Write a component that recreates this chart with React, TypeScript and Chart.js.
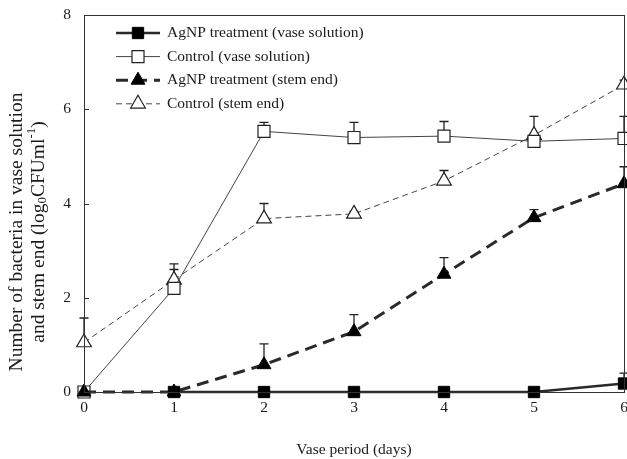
import React, { useEffect, useRef } from "react";
import { Chart, registerables } from "chart.js";
import { drawPoint } from "chart.js/helpers";

Chart.register(...registerables);

const days = [0, 1, 2, 3, 4, 5, 6];
const yTicks = [0, 2, 4, 6, 8];

const agnpVase = [null, 0, 0, 0, 0, 0, 0.18];
const agnpVaseErr = [0, 0, 0, 0, 0, 0, 0.22];
const controlVase = [0, 2.2, 5.53, 5.4, 5.43, 5.32, 5.38];
const controlVaseErr = [0, 0.4, 0.19, 0.32, 0.31, 0.53, 0.47];
const agnpStem = [0, 0, 0.58, 1.28, 2.5, 3.7, 4.42];
const agnpStemErr = [0, 0, 0.44, 0.36, 0.35, 0.17, 0.36];
const controlStem = [1.05, 2.38, 3.68, 3.78, 4.48, 5.45, 6.52];
const controlStemErr = [0.52, 0.34, 0.32, 0.05, 0.22, 0, 0.1];

const seriesLabels = [
  "AgNP treatment (vase solution)",
  "Control (vase solution)",
  "AgNP treatment (stem end)",
  "Control (stem end)",
];

const FONT = "'Liberation Serif', 'Times New Roman', serif";
const TEXT = "#1a1a1a";

const toXY = (arr: (number | null)[]) => arr.map((v, i) => ({ x: days[i], y: v }));

const errorBarPlugin = {
  id: "errorBars",
  beforeDatasetsDraw(chart: any) {
    const { ctx, scales } = chart;
    const x = scales.x;
    const y = scales.y;
    ctx.save();
    ctx.strokeStyle = "#222";
    ctx.lineWidth = 1.3;
    chart.data.datasets.forEach((ds: any) => {
      const errs: number[] = ds.errors;
      if (!errs) return;
      ds.data.forEach((p: any, i: number) => {
        if (p.y == null || !errs[i]) return;
        const px = x.getPixelForValue(p.x);
        const py0 = y.getPixelForValue(p.y);
        const py1 = y.getPixelForValue(p.y + errs[i]);
        ctx.beginPath();
        ctx.moveTo(px, py0);
        ctx.lineTo(px, py1);
        ctx.moveTo(px - 4.5, py1);
        ctx.lineTo(px + 4.5, py1);
        ctx.stroke();
      });
    });
    ctx.restore();
  },
};

const framePlugin = {
  id: "frame",
  afterDraw(chart: any) {
    const { ctx, chartArea, scales } = chart;
    const y = scales.y;
    ctx.save();
    ctx.strokeStyle = "#333";
    ctx.lineWidth = 1;
    ctx.strokeRect(
      Math.round(chartArea.left) + 0.5,
      Math.round(chartArea.top) + 0.5,
      Math.round(chartArea.right - chartArea.left),
      Math.round(chartArea.bottom - chartArea.top)
    );
    ctx.beginPath();
    yTicks.forEach((t) => {
      const py = Math.round(y.getPixelForValue(t)) + 0.5;
      ctx.moveTo(chartArea.left, py);
      ctx.lineTo(chartArea.left + 5, py);
    });
    ctx.stroke();
    ctx.restore();
  },
};

const legendPlugin = {
  id: "customLegend",
  afterDraw(chart: any) {
    const { ctx } = chart;
    ctx.save();
    chart.data.datasets.forEach((ds: any, i: number) => {
      const yy = 33 + i * 23.6;
      ctx.strokeStyle = ds.borderColor;
      ctx.lineWidth = ds.borderWidth;
      ctx.setLineDash(ds.borderDash || []);
      ctx.beginPath();
      ctx.moveTo(116, yy);
      ctx.lineTo(160, yy);
      ctx.stroke();
      ctx.setLineDash([]);
      ctx.fillStyle = ds.pointBackgroundColor;
      ctx.strokeStyle = ds.pointBorderColor;
      ctx.lineWidth = ds.pointBorderWidth;
      drawPoint(
        ctx,
        { pointStyle: ds.pointStyle, radius: ds.pointRadius, rotation: 0, borderWidth: ds.pointBorderWidth } as any,
        138,
        yy
      );
      ctx.fillStyle = TEXT;
      ctx.font = `15.5px ${FONT}`;
      ctx.textAlign = "left";
      ctx.textBaseline = "middle";
      ctx.fillText(ds.label, 167, yy);
    });
    ctx.restore();
  },
};

const titlesPlugin = {
  id: "titles",
  afterDraw(chart: any) {
    const { ctx, chartArea } = chart;
    ctx.save();
    ctx.fillStyle = TEXT;
    ctx.textBaseline = "middle";
    ctx.font = `15.5px ${FONT}`;
    ctx.textAlign = "center";
    ctx.fillText("Vase period (days)", (chartArea.left + chartArea.right) / 2, 450);

    const cy = 232;
    const big = 19.5;
    const small = 13;
    ctx.save();
    ctx.translate(17, cy);
    ctx.rotate(-Math.PI / 2);
    ctx.textAlign = "center";
    ctx.font = `${big}px ${FONT}`;
    ctx.fillText("Number of bacteria in vase solution", 0, 0);
    ctx.restore();

    const parts = [
      { t: "and stem end (log", s: big, dy: 0 },
      { t: "0", s: small, dy: 4 },
      { t: "CFUml", s: big, dy: 0 },
      { t: "-1", s: small, dy: -7 },
      { t: ")", s: big, dy: 0 },
    ];
    let total = 0;
    parts.forEach((p) => {
      ctx.font = `${p.s}px ${FONT}`;
      total += ctx.measureText(p.t).width;
    });
    ctx.save();
    ctx.translate(39, cy);
    ctx.rotate(-Math.PI / 2);
    ctx.textAlign = "left";
    let cx = -total / 2;
    parts.forEach((p) => {
      ctx.font = `${p.s}px ${FONT}`;
      ctx.fillText(p.t, cx, p.dy);
      cx += ctx.measureText(p.t).width;
    });
    ctx.restore();
    ctx.restore();
  },
};

export default function App() {
  const ref = useRef<HTMLCanvasElement | null>(null);

  useEffect(() => {
    document.body.style.margin = "0";
    if (!ref.current) return;
    const chart = new Chart(ref.current, {
      type: "line",
      data: {
        datasets: [
          {
            label: seriesLabels[0],
            data: toXY(agnpVase),
            errors: agnpVaseErr,
            borderColor: "#2a2a2a",
            borderWidth: 2.5,
            pointStyle: "rect",
            pointRadius: 8,
            pointBackgroundColor: "#000",
            pointBorderColor: "#000",
            pointBorderWidth: 1,
            order: 0,
            clip: false,
          } as any,
          {
            label: seriesLabels[1],
            data: toXY(controlVase),
            errors: controlVaseErr,
            borderColor: "#444",
            borderWidth: 1,
            pointStyle: "rect",
            pointRadius: 8.5,
            pointBackgroundColor: "#fff",
            pointBorderColor: "#222",
            pointBorderWidth: 1.2,
            order: 2,
            clip: false,
          } as any,
          {
            label: seriesLabels[2],
            data: toXY(agnpStem),
            errors: agnpStemErr,
            borderColor: "#2a2a2a",
            borderWidth: 3,
            borderDash: [12, 7],
            pointStyle: "triangle",
            pointRadius: 8,
            pointBackgroundColor: "#000",
            pointBorderColor: "#000",
            pointBorderWidth: 1,
            order: 1,
            clip: false,
          } as any,
          {
            label: seriesLabels[3],
            data: toXY(controlStem),
            errors: controlStemErr,
            borderColor: "#444",
            borderWidth: 1,
            borderDash: [6, 4],
            pointStyle: "triangle",
            pointRadius: 8.5,
            pointBackgroundColor: "#fff",
            pointBorderColor: "#222",
            pointBorderWidth: 1.2,
            order: 3,
            clip: false,
          } as any,
        ],
      },
      options: {
        responsive: false,
        animation: false,
        devicePixelRatio: 1,
        layout: { autoPadding: false, padding: { top: 15, right: 3, left: 0, bottom: 0 } },
        plugins: {
          legend: { display: false },
          tooltip: { enabled: false },
          title: { display: false },
        },
        elements: { line: { tension: 0, fill: false } },
        scales: {
          x: {
            type: "linear",
            min: 0,
            max: 6,
            ticks: {
              stepSize: 1,
              padding: 7,
              color: TEXT,
              font: { family: FONT, size: 15.5 },
            },
            grid: { display: false, drawTicks: false },
            border: { display: false },
            afterFit: (s: any) => {
              s.height = 67;
              s.paddingLeft = 0;
              s.paddingRight = 0;
            },
          },
          y: {
            type: "linear",
            min: 0,
            max: 8,
            afterBuildTicks: (s: any) => {
              s.ticks = yTicks.map((v) => ({ value: v }));
            },
            ticks: {
              padding: 13,
              color: TEXT,
              font: { family: FONT, size: 15.5 },
            },
            grid: { display: false, drawTicks: false },
            border: { display: false },
            afterFit: (s: any) => {
              s.width = 84;
              s.paddingTop = 0;
              s.paddingBottom = 0;
            },
          },
        },
      } as any,
      plugins: [errorBarPlugin, framePlugin, legendPlugin, titlesPlugin],
    });
    return () => chart.destroy();
  }, []);

  return (
    <div style={{ width: 627, height: 459 }}>
      <canvas ref={ref} width={627} height={459} style={{ display: "block" }} />
    </div>
  );
}
